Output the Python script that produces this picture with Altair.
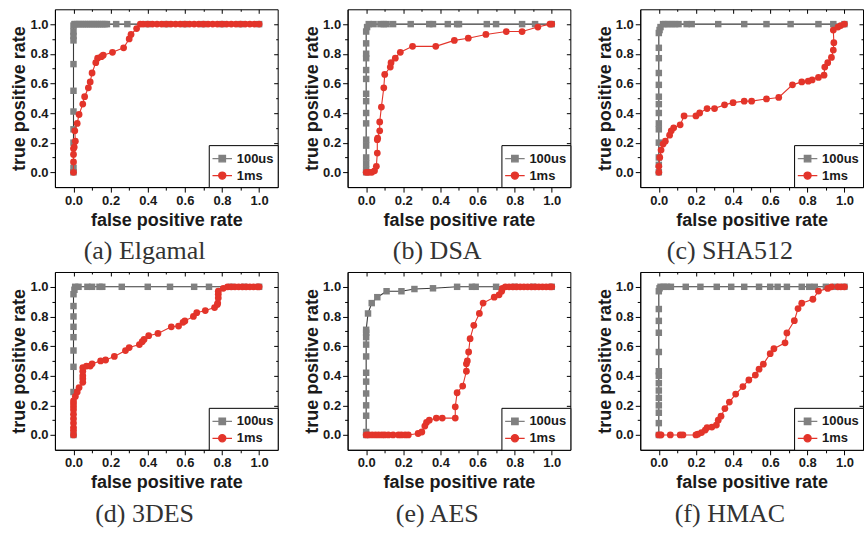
import altair as alt
import pandas as pd

# ---------------- data (fpr, tpr) ----------------
A_100US = [(0,0),(0,0.03),(0,0.20),(0,0.29),(0,0.41),(0,0.55),(0,0.73),(0,0.89),(0,0.92),(0,0.95),(0,0.99),
           (0.005,1),(0.01,1),(0.02,1),(0.03,1),(0.04,1),(0.05,1),(0.06,1),(0.07,1),(0.08,1),(0.09,1),(0.10,1),
           (0.11,1),(0.12,1),(0.13,1),(0.14,1),(0.15,1),(0.16,1),(0.17,1),(0.18,1),(0.23,1),(0.29,1),(0.40,1),
           (0.50,1),(0.60,1),(0.70,1),(0.80,1),(0.90,1),(1.0,1)]
A_1MS = [(0,0),(0,0.07),(0,0.12),(0,0.16),(0.004,0.17),(0.01,0.21),(0.007,0.28),(0.02,0.33),(0.03,0.39),
         (0.05,0.46),(0.06,0.51),(0.08,0.57),(0.09,0.61),(0.10,0.67),(0.12,0.74),(0.13,0.77),(0.15,0.78),
         (0.16,0.79),(0.21,0.81),(0.27,0.84),(0.30,0.90),(0.31,0.93),(0.34,0.97),(0.36,1.0),(0.375,1),(0.40,1),
         (0.425,1),(0.45,1),(0.475,1),(0.50,1),(0.525,1),(0.55,1),(0.575,1),(0.60,1),(0.625,1),(0.65,1),
         (0.675,1),(0.70,1),(0.725,1),(0.75,1),(0.775,1),(0.80,1),(0.825,1),(0.85,1),(0.875,1),(0.90,1),
         (0.925,1),(0.95,1),(0.975,1),(1.0,1)]

B_100US = [(0,0),(0,0.02),(0,0.06),(0,0.10),(0,0.18),(0,0.22),(0,0.33),(0,0.40),(0,0.48),(0,0.53),(0,0.63),
           (0,0.69),(0,0.77),(0,0.80),(0,0.87),(0,0.95),(0.005,0.98),(0.014,1),(0.04,1),(0.077,1),(0.095,1),
           (0.11,1),(0.145,1),(0.24,1),(0.34,1),(0.36,1),(0.44,1),(0.49,1),(0.50,1),(0.65,1),(0.70,1),
           (0.84,1),(0.91,1),(1.0,1)]
B_1MS = [(0,0),(0.014,0),(0.03,0),(0.045,0.01),(0.055,0.04),(0.06,0.13),(0.06,0.22),(0.062,0.23),
         (0.073,0.28),(0.073,0.34),(0.082,0.44),(0.095,0.57),(0.10,0.66),(0.13,0.71),(0.134,0.74),
         (0.157,0.77),(0.184,0.81),(0.25,0.85),(0.375,0.85),(0.475,0.89),(0.55,0.905),(0.645,0.93),
         (0.755,0.95),(0.84,0.95),(0.925,0.98),(0.99,1.0),(1.0,1.0)]

C_100US = [(0,0),(0,0.05),(0,0.10),(0,0.20),(0,0.29),(0,0.33),(0,0.40),(0,0.46),(0,0.51),(0,0.59),(0,0.67),
           (0,0.77),(0,0.84),(0,0.94),(0.004,0.96),(0.009,0.98),(0.023,1),(0.035,1),(0.053,1),(0.07,1),
           (0.088,1),(0.106,1),(0.15,1),(0.177,1),(0.32,1),(0.46,1),(0.58,1),(0.71,1),(0.86,1),(0.94,1),(1.0,1)]
C_1MS = [(0,0),(0,0.04),(0.005,0.10),(0.012,0.15),(0.023,0.19),(0.035,0.21),(0.058,0.25),(0.067,0.28),
         (0.08,0.30),(0.115,0.32),(0.136,0.38),(0.20,0.38),(0.22,0.40),(0.26,0.43),(0.30,0.43),(0.354,0.455),
         (0.40,0.47),(0.46,0.48),(0.50,0.48),(0.58,0.495),(0.646,0.505),(0.72,0.59),(0.77,0.61),(0.805,0.615),
         (0.826,0.623),(0.86,0.64),(0.89,0.655),(0.894,0.71),(0.91,0.74),(0.93,0.775),(0.94,0.825),
         (0.943,0.875),(0.94,0.96),(0.965,0.98),(0.98,0.99),(1.0,1.0)]

D_100US = [(0,0),(0,0.29),(0,0.46),(0,0.57),(0,0.66),(0,0.73),(0,0.80),(0,0.87),(0,0.95),(0.005,0.98),
           (0.009,1),(0.027,1),(0.075,1),(0.10,1),(0.14,1),(0.155,1),(0.26,1),(0.40,1),(0.52,1),(0.65,1),
           (0.73,1),(0.85,1),(0.92,1),(1.0,1)]
D_1MS = [(0,0),(0,0.03),(0,0.05),(0,0.08),(0,0.11),(0,0.14),(0,0.17),(0,0.19),(0,0.21),(0,0.23),(0.01,0.26),
         (0.02,0.29),(0.03,0.32),(0.05,0.355),(0.05,0.38),(0.05,0.40),(0.05,0.43),(0.05,0.455),(0.07,0.465),
         (0.09,0.465),(0.10,0.48),(0.146,0.50),(0.173,0.506),(0.22,0.53),(0.28,0.57),(0.30,0.59),(0.355,0.61),
         (0.37,0.63),(0.38,0.645),(0.405,0.67),(0.455,0.685),(0.527,0.73),(0.566,0.735),(0.59,0.76),
         (0.60,0.77),(0.646,0.80),(0.664,0.825),(0.71,0.84),(0.76,0.86),(0.775,0.88),(0.777,0.89),
         (0.78,0.925),(0.78,0.95),(0.78,0.97),(0.807,0.99),(0.83,1),(0.85,1),(0.87,1),(0.89,1),(0.91,1),
         (0.93,1),(0.95,1),(0.97,1),(0.99,1),(1.0,1)]

E_100US = [(0,0),(0,0.02),(0,0.13),(0,0.20),(0,0.28),(0,0.36),(0,0.42),(0,0.53),(0,0.61),(0,0.66),(0,0.69),
           (0,0.71),(0.01,0.82),(0.03,0.89),(0.06,0.93),(0.11,0.97),(0.19,0.97),(0.26,0.985),(0.36,0.99),
           (0.49,1),(0.57,1),(0.59,1),(0.70,1),(0.80,1),(0.90,1),(1.0,1)]
E_1MS = [(0,0),(0.014,0),(0.032,0),(0.05,0),(0.067,0),(0.085,0),(0.10,0),(0.12,0),(0.145,0),(0.174,0),
         (0.19,0),(0.21,0),(0.227,0),(0.28,0.01),(0.30,0.02),(0.316,0.06),(0.325,0.085),(0.34,0.10),
         (0.378,0.114),(0.41,0.114),(0.48,0.114),(0.48,0.19),(0.49,0.285),(0.52,0.33),(0.54,0.43),
         (0.54,0.48),(0.545,0.50),(0.552,0.56),(0.56,0.65),(0.58,0.74),(0.61,0.82),(0.63,0.89),(0.69,0.93),
         (0.716,0.946),(0.73,0.97),(0.734,0.99),(0.75,1),(0.77,1),(0.79,1),(0.81,1),(0.83,1),(0.85,1),
         (0.87,1),(0.89,1),(0.91,1),(0.93,1),(0.95,1),(0.97,1),(0.99,1),(1.0,1)]

F_100US = [(0,0),(0,0.08),(0,0.15),(0,0.20),(0,0.25),(0,0.30),(0,0.35),(0,0.40),(0,0.43),(0,0.56),(0,0.69),
           (0,0.77),(0,0.85),(0,0.97),(0.004,0.99),(0.009,1),(0.026,1),(0.044,1),(0.065,1),(0.145,1),
           (0.224,1),(0.312,1),(0.39,1),(0.46,1),(0.54,1),(0.60,1),(0.64,1),(0.69,1),(0.77,1),(0.81,1),
           (0.84,1),(0.90,1),(0.95,1),(1.0,1)]
F_1MS = [(0,0),(0.012,0),(0.062,0),(0.115,0),(0.13,0),(0.20,0),(0.21,0.005),(0.23,0.016),(0.25,0.033),
         (0.26,0.05),(0.286,0.053),(0.31,0.067),(0.32,0.10),(0.335,0.127),(0.356,0.178),(0.38,0.222),
         (0.414,0.276),(0.453,0.327),(0.485,0.371),(0.52,0.404),(0.54,0.444),(0.563,0.478),(0.60,0.549),
         (0.62,0.582),(0.68,0.622),(0.69,0.689),(0.73,0.771),(0.75,0.853),(0.77,0.889),(0.83,0.916),
         (0.86,0.971),(0.91,0.989),(0.93,1.0),(0.965,1),(0.98,1),(1.0,1)]

CAPTIONS = ["(a) Elgamal", "(b) DSA", "(c) SHA512", "(d) 3DES", "(e) AES", "(f) HMAC"]
SERIES = ["100us", "1ms"]
TICKS = [0.0, 0.1, 0.2, 0.3, 0.4, 0.5, 0.6, 0.7, 0.8, 0.9, 1.0]
DOMAIN = [-0.1, 1.1]

# ---------------- style ----------------
W, H = 223, 178
FONT = "Liberation Sans"
GRAY = "#808080"
DARK = "#3a3a3a"
RED = "#e3342a"
# legend symbols: short line with marker on top
P_SQ = "M-1.15,0L1.15,0M-0.38,-0.38L0.38,-0.38L0.38,0.38L-0.38,0.38Z"
P_CI = "M-1.15,0L1.15,0M0.42,0A0.42,0.42,0,1,1,-0.42,0A0.42,0.42,0,1,1,0.42,0"

MAJOR = "round(datum.value*10) % 2 === 0"
LBL = f"{MAJOR} ? format(datum.value, '.1f') : ''"


def tick_size(big, small):
    return {"condition": {"test": MAJOR, "value": big}, "value": small}


def main_axis(title, title_pad):
    return alt.Axis(values=TICKS, labelExpr=LBL, labelOverlap=False, tickSize=tick_size(5, 3),
                    title=title, grid=False, domainColor="black", tickColor="black",
                    labelFont=FONT, labelFontWeight="bold", labelFontSize=13, labelColor="#1a1a1a",
                    labelPadding=2, titleFont=FONT, titleFontWeight="bold", titleFontSize=18,
                    titleColor="#1a1a1a", titlePadding=title_pad)


def frame_axis(orient, offset):
    return alt.Axis(orient=orient, offset=offset, values=TICKS, labels=False, title=None,
                    tickSize=tick_size(4, 2), domain=False, grid=False, tickColor="black")


def panel(caption, s100, s1ms):
    rows = [dict(fpr=x, tpr=y, series=SERIES[0], i=k) for k, (x, y) in enumerate(s100)]
    rows += [dict(fpr=x, tpr=y, series=SERIES[1], i=1000 + k) for k, (x, y) in enumerate(s1ms)]
    df = pd.DataFrame(rows)
    sx = alt.Scale(domain=DOMAIN, nice=False, zero=False)
    sy = alt.Scale(domain=DOMAIN, nice=False, zero=False)
    base = alt.Chart(df)
    is100 = alt.datum.series == SERIES[0]
    is1ms = alt.datum.series == SERIES[1]

    line100 = base.transform_filter(is100).mark_line(strokeWidth=1.1, color=DARK).encode(
        x=alt.X("fpr:Q", scale=sx, axis=main_axis("false positive rate", 4)),
        y=alt.Y("tpr:Q", scale=sy, axis=main_axis("true positive rate", 1)),
        order=alt.Order("i:Q"),
    )
    sq100 = base.transform_filter(is100).mark_square(size=42, color=GRAY, opacity=1).encode(
        x=alt.X("fpr:Q", scale=sx, axis=None),
        y=alt.Y("tpr:Q", scale=sy, axis=None),
    )
    line1 = base.transform_filter(is1ms).mark_line(strokeWidth=1.1, color=RED).encode(
        x=alt.X("fpr:Q", scale=sx, axis=None),
        y=alt.Y("tpr:Q", scale=sy, axis=None),
        order=alt.Order("i:Q"),
    )
    ci1 = base.transform_filter(is1ms).mark_circle(size=46, color=RED, opacity=1).encode(
        x=alt.X("fpr:Q", scale=sx, axis=frame_axis("bottom", -H)),
        y=alt.Y("tpr:Q", scale=sy, axis=frame_axis("left", -W)),
    )
    legend = alt.Legend(
        title=None, orient="bottom-right", offset=0, padding=4, strokeColor="black",
        fillColor="white", symbolSize=289, labelFont=FONT, labelFontWeight="bold",
        labelFontSize=13, labelColor="#1a1a1a", labelOffset=5, rowPadding=0,
        symbolStrokeWidth=1.3, symbolOpacity=1,
    )
    # legend-only layer (no rows drawn); its scales come from the series names
    leg = base.transform_filter("datum.i < 0").mark_point(filled=False, strokeWidth=1.3).encode(
        x=alt.X("fpr:Q", scale=sx, axis=None),
        y=alt.Y("tpr:Q", scale=sy, axis=None),
        color=alt.Color("series:N", scale=alt.Scale(domain=SERIES, range=[GRAY, RED]), legend=legend),
        fill=alt.Fill("series:N", scale=alt.Scale(domain=SERIES, range=[GRAY, RED]), legend=legend),
        shape=alt.Shape("series:N", scale=alt.Scale(domain=SERIES, range=[P_SQ, P_CI]), legend=legend),
    )
    return alt.layer(line100, sq100, line1, ci1, leg).resolve_axis(
        x="independent", y="independent"
    ).properties(
        width=W, height=H,
        title=alt.TitleParams(caption, orient="bottom", anchor="middle", frame="bounds",
                              font="Liberation Serif", fontSize=26, fontWeight="normal",
                              color="#333333", offset=9),
    )


panels = [panel(CAPTIONS[0], A_100US, A_1MS), panel(CAPTIONS[1], B_100US, B_1MS),
          panel(CAPTIONS[2], C_100US, C_1MS), panel(CAPTIONS[3], D_100US, D_1MS),
          panel(CAPTIONS[4], E_100US, E_1MS), panel(CAPTIONS[5], F_100US, F_1MS)]

IND = dict(color="independent", fill="independent", shape="independent")

row1 = alt.hconcat(*panels[:3], spacing=24).resolve_scale(**IND).resolve_legend(**IND)
row2 = alt.hconcat(*panels[3:], spacing=24).resolve_scale(**IND).resolve_legend(**IND)

chart = alt.vconcat(row1, row2, spacing=6).resolve_scale(**IND).resolve_legend(**IND).configure_view(
    stroke="black", strokeWidth=1
).properties(
    padding={"left": 10, "top": 8, "right": 2, "bottom": 2}, background="white"
)

chart.save("out.html", embed_options={"renderer": "svg", "actions": False})
